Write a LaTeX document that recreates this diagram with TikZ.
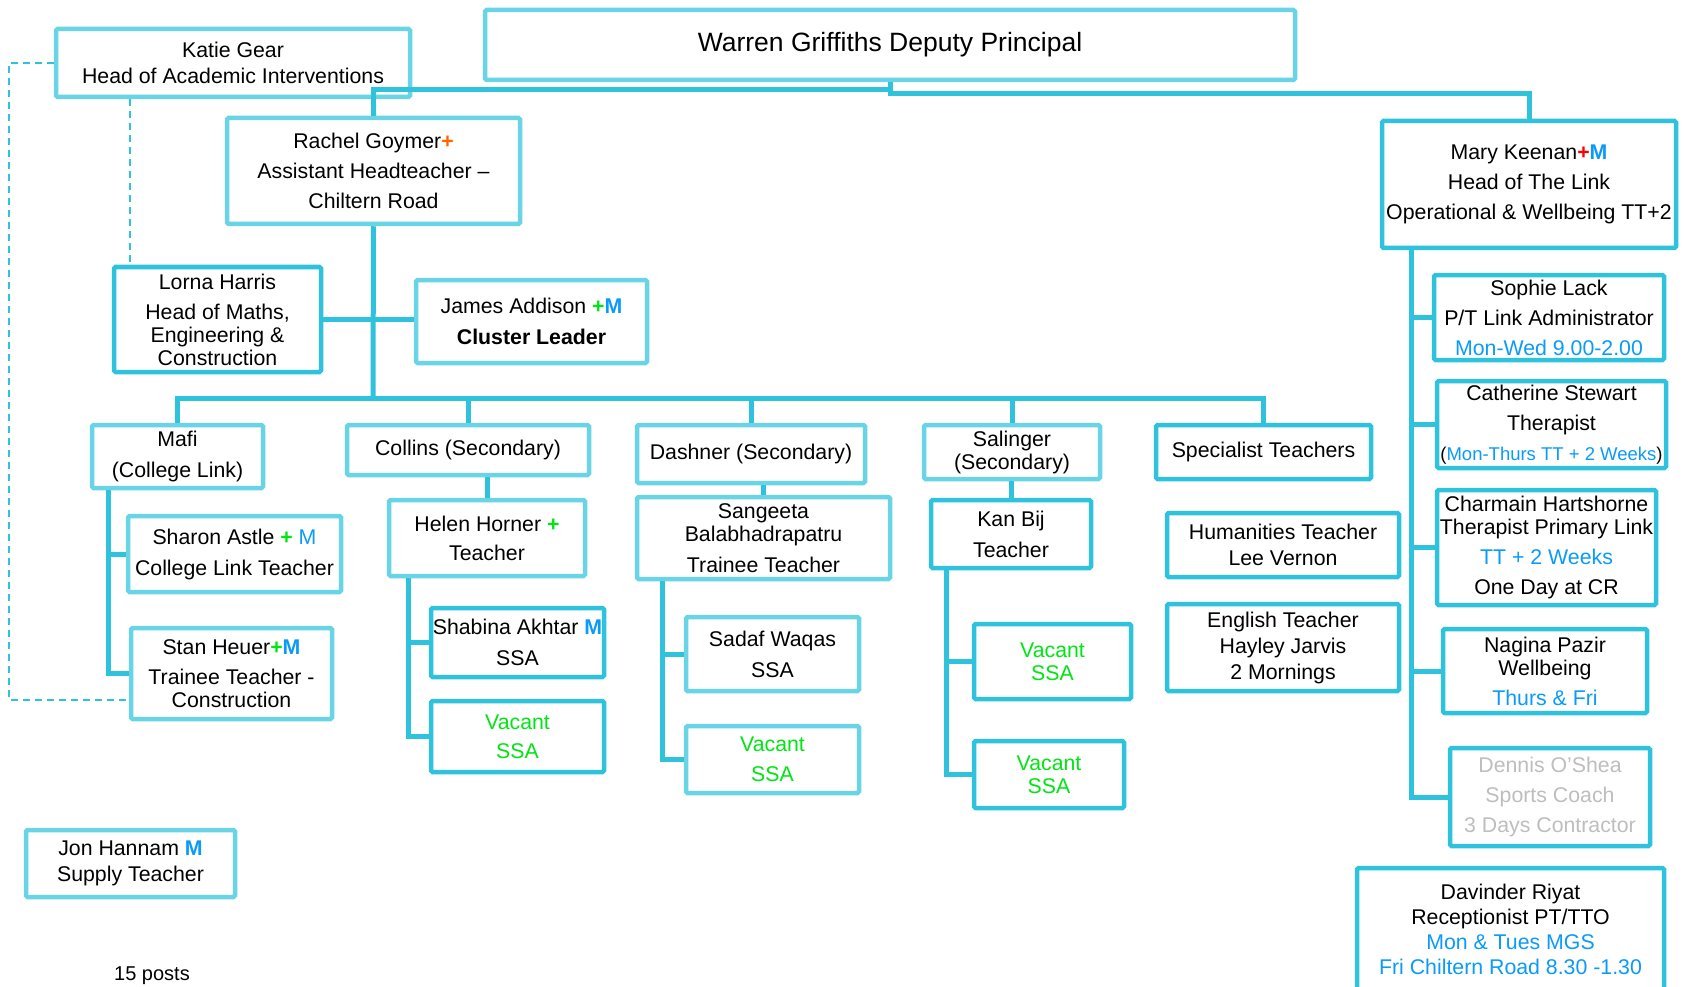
\documentclass[tikz,border=0pt]{standalone}
\usepackage{fontspec}
\setmainfont{Liberation Sans}
\definecolor{lb}{RGB}{104,212,230}
\definecolor{db}{RGB}{46,194,220}
\definecolor{tb}{RGB}{10,155,250}
\definecolor{tg}{RGB}{0,230,20}
\definecolor{to}{RGB}{255,102,0}
\definecolor{tr}{RGB}{255,0,0}
\definecolor{tgr}{RGB}{190,190,190}
\newcommand\grp{{\bfseries\color{tg}+}}
\newcommand\orp{{\bfseries\color{to}+}}
\newcommand\rdp{{\bfseries\color{tr}+}}
\newcommand\blM{{\bfseries\color{tb}M}}
\newcommand\blm{{\color{tb}M}}
\newcommand\bt[1]{{\color{tb}#1}}
\begin{document}
\begin{tikzpicture}[x=1pt,y=-1pt,
  box/.style={draw, line width=4.5pt, fill=white, inner sep=0pt, align=center,
    font=\fontsize{21.3}{23}\selectfont, rounded corners=1.5pt},
  lbox/.style={box, draw=lb},
  dbox/.style={box, draw=db},
  conn/.style={draw=db, line width=5pt},
  dsh/.style={draw=db, line width=1.8pt, dash pattern=on 7pt off 5pt}]
\useasboundingbox (0,0) rectangle (1687,987);

% top
\node[lbox, minimum width=810, minimum height=70, font=\fontsize{26.5}{29}\selectfont] (warren) at (890,45) {Warren Griffiths Deputy Principal};
\node[lbox, minimum width=354, minimum height=68] (katie) at (233,63) {Katie Gear\\[3pt]Head of Academic Interventions};
\node[lbox, minimum width=293, minimum height=106] (rachel) at (373.5,171) {Rachel Goymer\orp\\[7pt]Assistant Headteacher –\\[7pt]Chiltern Road};
\node[dbox, minimum width=207, minimum height=105] (lorna) at (217.5,319.5) {Lorna Harris\\[7pt]Head of Maths,\\Engineering \&\\Construction};
\node[lbox, minimum width=231, minimum height=83] (james) at (531.5,321.5) {James Addison \grp\blM\\[8pt]\textbf{Cluster Leader}};

% Mary branch
\node[dbox, minimum width=294, minimum height=127] (mary) at (1529,184.5) {Mary Keenan\rdp\blM\\[7pt]Head of The Link\\[7pt]Operational \& Wellbeing TT+2};
\node[dbox, minimum width=230, minimum height=85] (sophie) at (1549,317.5) {Sophie Lack\\[7pt]P/T Link Administrator\\[7pt]\bt{Mon-Wed 9.00-2.00}};
\node[dbox, minimum width=229, minimum height=87] (catherine) at (1551.5,424.5) {Catherine Stewart\\[7pt]Therapist\\[7pt]{\fontsize{18.5}{20}\selectfont(\bt{Mon-Thurs TT + 2 Weeks})}};
\node[dbox, minimum width=219, minimum height=115] (charmain) at (1546.5,547.5) {Charmain Hartshorne\\Therapist Primary Link\\[7pt]\bt{TT + 2 Weeks}\\[7pt]One Day at CR};
\node[dbox, minimum width=204, minimum height=84] (nagina) at (1545,671) {Nagina Pazir\\Wellbeing\\[7pt]\bt{Thurs \& Fri}};
\node[dbox, minimum width=200, minimum height=98, text=tgr] (dennis) at (1550,797) {Dennis O’Shea\\[7pt]Sports Coach\\[7pt]3 Days Contractor};
\node[dbox, minimum width=307, minimum height=122] (davinder) at (1510.5,929) {Davinder Riyat\\[2pt]Receptionist PT/TTO\\[2pt]\bt{Mon \& Tues MGS}\\[2pt]\bt{Fri Chiltern Road 8.30 -1.30}};

% second tier
\node[lbox, minimum width=171, minimum height=63] (mafi) at (177.5,456.5) {Mafi\\[8pt](College Link)};
\node[lbox, minimum width=242, minimum height=50] (collins) at (468,450) {Collins (Secondary)};
\node[lbox, minimum width=228, minimum height=58] (dashner) at (751,454) {Dashner (Secondary)};
\node[lbox, minimum width=176, minimum height=54] (salinger) at (1012,452) {Salinger\\(Secondary)};
\node[dbox, minimum width=215, minimum height=54] (specialist) at (1263.5,452) {Specialist Teachers};

% Mafi children
\node[lbox, minimum width=213, minimum height=76] (sharon) at (234.5,554) {Sharon Astle \grp\ \blm\\[8pt]College Link Teacher};
\node[lbox, minimum width=201, minimum height=91] (stan) at (231.5,673.5) {Stan Heuer\grp\blM\\[7pt]Trainee Teacher -\\Construction};

% Collins children
\node[lbox, minimum width=196, minimum height=76] (helen) at (487,538) {Helen Horner \grp\\[6pt]Teacher};
\node[dbox, minimum width=173, minimum height=69] (shabina) at (517.5,642.5) {Shabina Akhtar \blM\\[8pt]SSA};
\node[dbox, minimum width=173, minimum height=71, text=tg] (vac1) at (517.5,736.5) {Vacant\\[6pt]SSA};

% Dashner children
\node[lbox, minimum width=253, minimum height=82] (sangeeta) at (763.5,538) {Sangeeta\\Balabhadrapatru\\[8pt]Trainee Teacher};
\node[lbox, minimum width=173, minimum height=74] (sadaf) at (772.5,654) {Sadaf Waqas\\[8pt]SSA};
\node[lbox, minimum width=173, minimum height=67, text=tg] (vac2) at (772.5,759.5) {Vacant\\[7pt]SSA};

% Salinger children
\node[dbox, minimum width=160, minimum height=68] (kan) at (1011,534) {Kan Bij\\[8pt]Teacher};
\node[dbox, minimum width=157, minimum height=75, text=tg] (vac3) at (1052.5,661.5) {Vacant\\SSA};
\node[dbox, minimum width=150, minimum height=67, text=tg] (vac4) at (1049,774.5) {Vacant\\SSA};

% Specialist
\node[dbox, minimum width=232, minimum height=64] (humanities) at (1283,545) {Humanities Teacher\\[3pt]Lee Vernon};
\node[dbox, minimum width=232, minimum height=87] (english) at (1283,647.5) {English Teacher\\[3pt]Hayley Jarvis\\[3pt]2 Mornings};

% misc
\node[lbox, minimum width=209, minimum height=67] (jon) at (130.5,863.5) {Jon Hannam \blM\\[3pt]Supply Teacher};
\node[font=\fontsize{20}{22}\selectfont, inner sep=0pt] (posts) at (152,976) {15 posts};

% coordinates
\coordinate (wl) at (890,90);
\coordinate (wr) at (890,94);
\coordinate (bus) at (373,398);
\coordinate (mv) at (108,490);
\coordinate (hv) at (408,578);
\coordinate (sv) at (662,581);
\coordinate (kv) at (946,570);
\coordinate (yv) at (1411,250);
\coordinate (dl) at (9,700);
\coordinate (kx) at (130,99);

% connectors
\draw[conn] (rachel.north) |- (wl) -- (warren.south);
\draw[conn] (warren.south) -- (wr) -| (mary.north);
\draw[conn] (rachel.south) -- (bus);
\draw[conn] (lorna.east) -- (lorna.east -| james.west);
\draw[conn] (mafi.north) |- (bus) -| (specialist.north);
\draw[conn] (collins.north) -- (collins.north |- bus);
\draw[conn] (dashner.north) -- (dashner.north |- bus);
\draw[conn] (salinger.north) -- (salinger.north |- bus);
\draw[conn] (helen.north) -- (helen.north |- collins.south);
\draw[conn] (sangeeta.north) -- (sangeeta.north |- dashner.south);
\draw[conn] (kan.north) -- (kan.north |- salinger.south);

\draw[conn] (mv |- mafi.south) |- (stan.west);
\draw[conn] (mv |- sharon.west) -- (sharon.west);
\draw[conn] (hv |- helen.south) |- (vac1.west);
\draw[conn] (hv |- shabina.west) -- (shabina.west);
\draw[conn] (sv |- sangeeta.south) |- (vac2.west);
\draw[conn] (sv |- sadaf.west) -- (sadaf.west);
\draw[conn] (kv |- kan.south) |- (vac4.west);
\draw[conn] (kv |- vac3.west) -- (vac3.west);
\draw[conn] (yv |- mary.south) |- (dennis.west);
\draw[conn] (yv |- sophie.west) -- (sophie.west);
\draw[conn] (yv |- catherine.west) -- (catherine.west);
\draw[conn] (yv |- charmain.west) -- (charmain.west);
\draw[conn] (yv |- nagina.west) -- (nagina.west);

\draw[dsh] (katie.west) -| (dl) -- (dl -| stan.west);
\draw[dsh] (katie.south -| kx) -- (lorna.north -| kx);
\end{tikzpicture}
\end{document}
